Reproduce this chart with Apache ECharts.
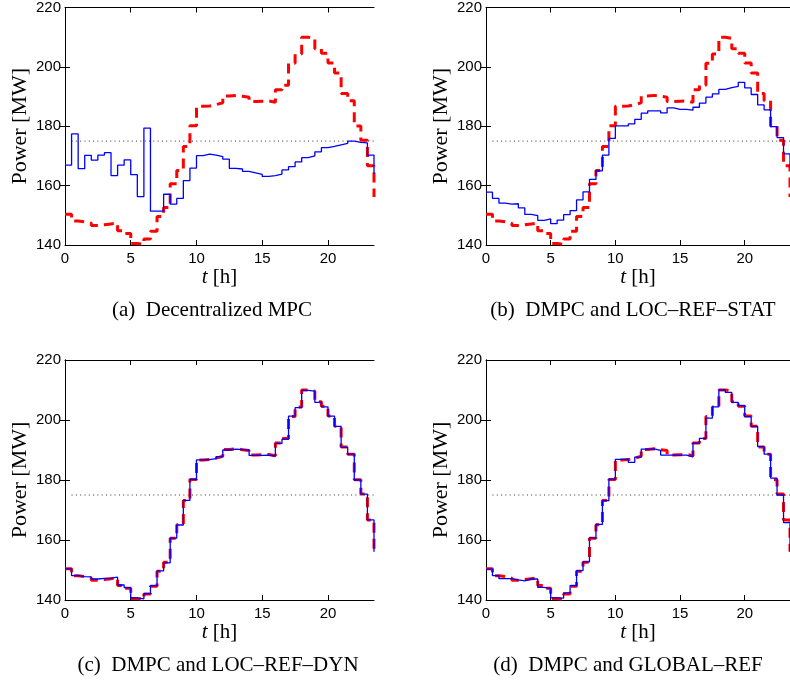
<!DOCTYPE html>
<html>
<head>
<meta charset="utf-8">
<script src="https://cdn.jsdelivr.net/npm/echarts@6/dist/echarts.min.js"></script>
<style>
  html, body { margin: 0; padding: 0; background: #fff; }
  #chart { width: 790px; height: 682px; }
</style>
</head>
<body>
<div id="chart"></div>
<script>
// time axis, half-hour steps
const hours = [0, 0.5, 1, 1.5, 2, 2.5, 3, 3.5, 4, 4.5, 5, 5.5, 6, 6.5, 7, 7.5, 8, 8.5, 9, 9.5,
  10, 10.5, 11, 11.5, 12, 12.5, 13, 13.5, 14, 14.5, 15, 15.5, 16, 16.5, 17, 17.5, 18, 18.5, 19, 19.5,
  20, 20.5, 21, 21.5, 22, 22.5, 23, 23.5]

// reference (red dashed)
const refPower = [150.4, 148.1, 147.8, 147.3, 146.6, 146.8, 147.1, 147.4, 144.8, 143.9,
  140.5, 140.2, 142.0, 144.6, 149.6, 152.6, 160.6, 165.1, 173.2, 180.2,
  186.7, 186.8, 187.3, 187.9, 190.2, 190.4, 190.1, 189.8, 188.3, 188.4,
  188.5, 188.1, 192.3, 193.8, 201.2, 204.3, 210.0, 209.6, 206.1, 204.6,
  201.3, 197.9, 191.0, 188.6, 180.1, 175.3, 166.7, 156.2]

// (a) Decentralized MPC
const powerA = [166.9, 177.4, 165.7, 170.2, 168.6, 170.3, 171.1, 163.4, 166.9, 168.7,
  163.7, 156.3, 179.4, 151.4, 151.4, 157.1, 153.8, 155.7, 161.7, 165.9,
  170.1, 170.6, 170.3, 169.8, 168.9, 165.8, 165.6, 164.8, 164.3, 163.8,
  163.1, 163.4, 163.9, 165.3, 166.4, 168.0, 169.4, 170.0, 171.4, 172.8,
  173.2, 173.7, 174.2, 175.0, 174.6, 174.4, 170.3, 164.0]

// (b) DMPC and LOC-REF-STAT
const powerB = [157.8, 155.7, 154.1, 153.8, 153.9, 152.5, 150.3, 149.9, 148.3, 148.8,
  147.2, 148.4, 150.2, 151.6, 155.2, 157.9, 162.1, 165.0, 170.3, 175.9,
  180.1, 180.1, 180.8, 182.3, 184.4, 185.2, 185.2, 184.5, 186.2, 185.7,
  185.7, 185.4, 186.4, 187.8, 189.8, 190.9, 192.4, 193.0, 193.4, 194.8,
  192.9, 190.7, 187.2, 185.5, 179.9, 176.2, 170.7, 166.0]

// (c) DMPC and LOC-REF-DYN
const powerC = [150.4, 148.1, 147.8, 147.7, 147.0, 147.2, 147.3, 147.6, 145.0, 144.1,
  140.7, 140.4, 142.1, 144.8, 149.7, 152.4, 160.6, 165.0, 173.2, 180.2,
  186.7, 186.8, 187.1, 187.8, 190.0, 190.3, 190.1, 190.0, 188.2, 188.2,
  188.3, 188.0, 192.2, 193.6, 201.3, 204.1, 209.9, 209.6, 205.9, 204.4,
  201.3, 197.9, 190.9, 188.6, 180.0, 175.3, 166.7, 156.1]

// (d) DMPC and GLOBAL-REF
const powerD = [150.3, 148.1, 147.1, 147.1, 146.7, 146.4, 147.0, 147.0, 144.2, 143.8,
  140.7, 140.6, 142.4, 144.8, 149.8, 152.7, 160.7, 165.2, 173.1, 180.3,
  186.9, 186.9, 185.9, 187.6, 190.3, 190.4, 189.9, 188.3, 188.3, 188.3,
  188.3, 187.7, 192.3, 193.9, 200.6, 204.4, 210.0, 209.2, 205.9, 204.8,
  201.1, 197.9, 191.1, 188.6, 180.6, 175.0, 165.8, 156.0]

// dotted capacity line
const limitLevel = 175
const limitSpan = [0.5, 23.5]

const xTicks = [0, 5, 10, 15, 20]
const yTicks = [160, 180, 200]

const captions = [
  '(a)  Decentralized MPC',
  '(b)  DMPC and LOC\u2013REF\u2013STAT',
  '(c)  DMPC and LOC\u2013REF\u2013DYN',
  '(d)  DMPC and GLOBAL\u2013REF'
]
const panelData = [powerA, powerB, powerC, powerD]

const SERIF = 'Liberation Serif'
const SANS = 'Liberation Sans'

// panel boxes (px)
const panels = [
  { left: 65, top: 5, capX: 212 },
  { left: 486, top: 5, capX: 633 },
  { left: 65, top: 360, capX: 218 },
  { left: 486, top: 360, capX: 628 }
]
const PW = 309, PH = 240

const pairs = (vals) => vals.map((v, i) => [hours[i], v])

let grid = [], xAxis = [], yAxis = [], series = [], graphic = []

panels.forEach((p, k) => {
  grid.push({ left: p.left, top: p.top, width: PW, height: PH })
  const axLine = { show: true, lineStyle: { color: '#000', width: 1 } }
  // bottom x
  xAxis.push({
    gridIndex: k, type: 'value', min: 0, max: 23.5, position: 'bottom',
    name: '{i|t} [h]', nameLocation: 'middle', nameGap: 18,
    nameTextStyle: {
      fontFamily: SERIF, fontSize: 21, color: '#000',
      rich: { i: { fontFamily: SERIF, fontSize: 21, fontStyle: 'italic', color: '#000' } }
    },
    axisLine: axLine,
    axisTick: { inside: true, length: 5, customValues: xTicks, lineStyle: { color: '#000' } },
    axisLabel: { customValues: xTicks, margin: 6, fontFamily: SANS, fontSize: 15, color: '#000' },
    splitLine: { show: false }
  })
  // top x (ticks only)
  xAxis.push({
    gridIndex: k, type: 'value', min: 0, max: 23.5, position: 'top',
    axisLine: axLine,
    axisTick: { inside: true, length: 5, customValues: xTicks, lineStyle: { color: '#000' } },
    axisLabel: { show: false },
    splitLine: { show: false }
  })
  // left y
  yAxis.push({
    gridIndex: k, type: 'value', min: 140, max: 220, interval: 20, position: 'left',
    name: 'Power [MW]', nameLocation: 'middle', nameGap: 34,
    nameTextStyle: { fontFamily: SERIF, fontSize: 22, color: '#000' },
    axisLine: axLine,
    axisTick: { inside: true, length: 5, lineStyle: { color: '#000' } },
    axisLabel: { margin: 4, fontFamily: SANS, fontSize: 15, color: '#000' },
    splitLine: { show: false }
  })
  // right y (ticks only)
  yAxis.push({
    gridIndex: k, type: 'value', min: 140, max: 220, position: 'right',
    axisLine: axLine,
    axisTick: { inside: true, length: 5, customValues: yTicks, lineStyle: { color: '#000' } },
    axisLabel: { show: false },
    splitLine: { show: false }
  })

  series.push({
    type: 'line', xAxisIndex: 2 * k, yAxisIndex: 2 * k,
    data: limitSpan.map(t => [t, limitLevel]),
    symbol: 'none', silent: true,
    lineStyle: { color: '#333', width: 1, type: [1, 3.3] }
  })
  series.push({
    type: 'line', xAxisIndex: 2 * k, yAxisIndex: 2 * k,
    data: pairs(refPower), step: 'end', symbol: 'none',
    lineStyle: { color: '#ff0000', width: 3, type: [10, 6] }
  })
  series.push({
    type: 'line', xAxisIndex: 2 * k, yAxisIndex: 2 * k,
    data: pairs(panelData[k]), step: 'end', symbol: 'none',
    lineStyle: { color: '#0000ff', width: 1.3 }
  })

  graphic.push({
    type: 'text', x: p.capX, y: p.top + PH + 65,
    style: {
      text: captions[k], fill: '#000', font: '21px "' + SERIF + '"',
      textAlign: 'center', textVerticalAlign: 'middle'
    }
  })
})

let options = {
  animation: false,
  backgroundColor: '#fff',
  grid: grid,
  xAxis: xAxis,
  yAxis: yAxis,
  series: series,
  graphic: graphic
}

const chart = echarts.init(document.getElementById('chart'))
chart.setOption(options)
window.addEventListener('resize', function () {
  chart.resize()
})
</script>
</body>
</html>
